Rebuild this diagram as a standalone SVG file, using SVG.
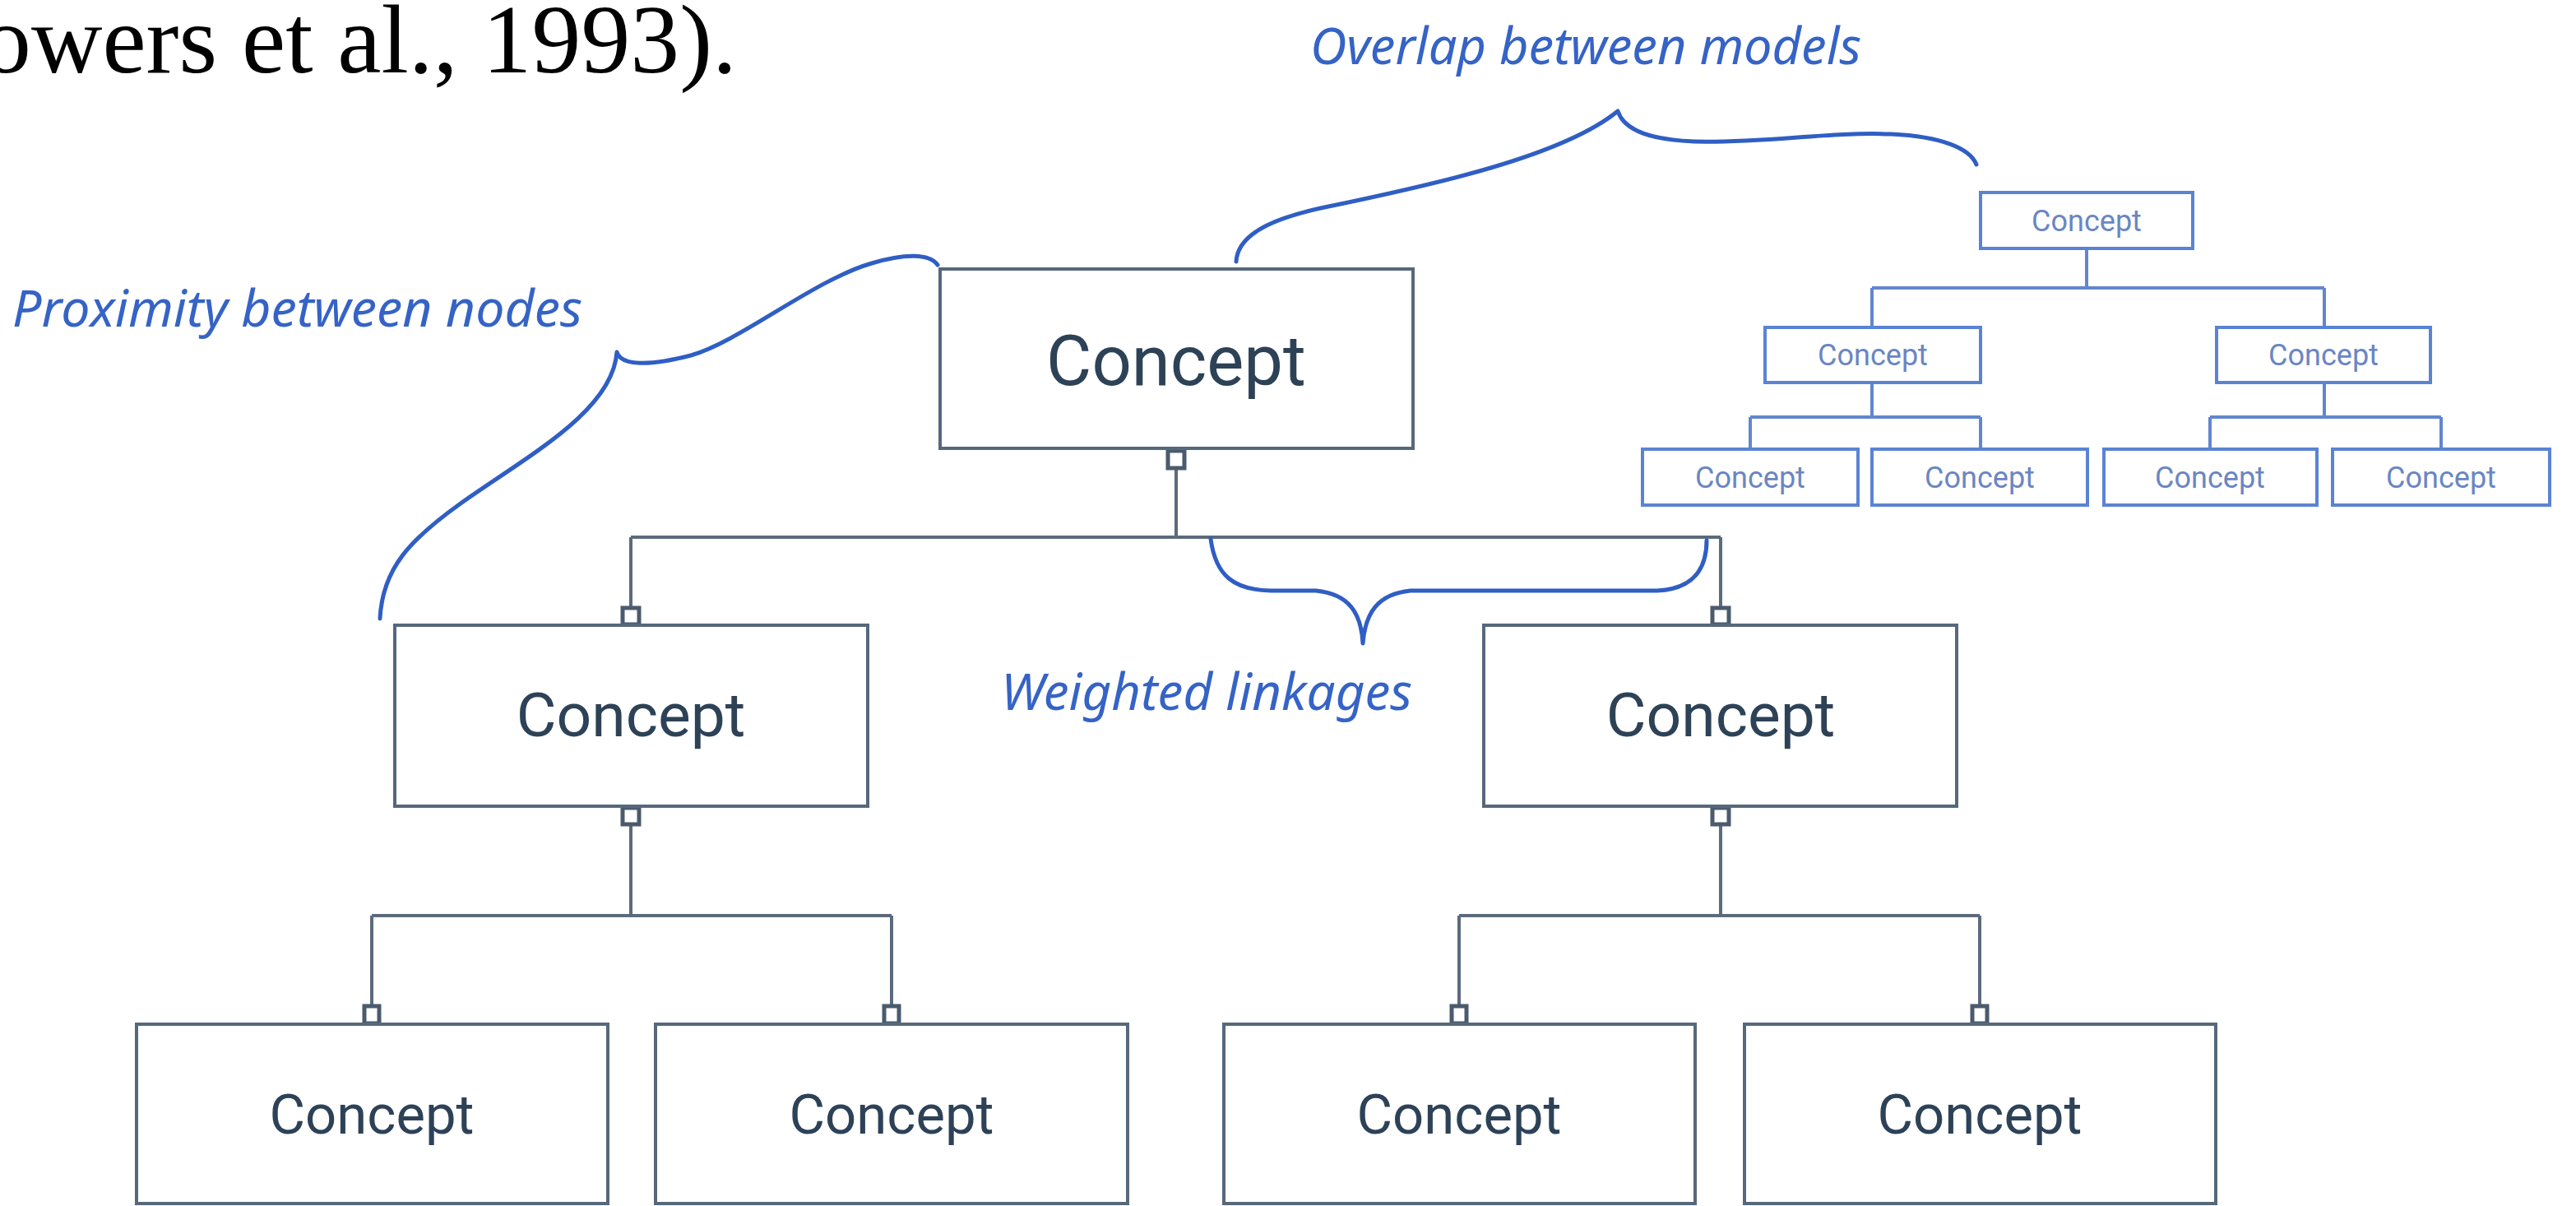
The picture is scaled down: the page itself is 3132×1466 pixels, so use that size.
<svg xmlns="http://www.w3.org/2000/svg" width="3132" height="1466" viewBox="0 0 3132 1466">
<style>
.box{fill:#ffffff;stroke:#56687b;stroke-width:4}
.lbl{font-family:Roboto,"Liberation Sans",sans-serif;fill:#2d4257;text-anchor:middle}
.big{font-size:85px}
.mid{font-size:75px}
.low{font-size:67px}
.conn{fill:none;stroke:#5c6b7b;stroke-width:4}
.port{fill:#ffffff;stroke:#4a5b6d;stroke-width:5}
.sbox{fill:#ffffff;stroke:#5a83d4;stroke-width:4}
.slbl{font-family:Roboto,"Liberation Sans",sans-serif;font-size:36px;fill:#6a86c2;text-anchor:middle}
.sconn{fill:none;stroke:#6286cf;stroke-width:4}
.brace{fill:none;stroke:#2f5ec4;stroke-width:5;stroke-linecap:round;stroke-linejoin:round}
.note{font-family:"Noto Sans","DejaVu Sans",sans-serif;font-style:italic;font-size:62px;fill:#3563c6}
</style>
<rect width="3132" height="1466" fill="#ffffff"/>
<text x="-22" y="88" font-family="'Liberation Serif',serif" font-size="118" fill="#000000" textLength="918" lengthAdjust="spacingAndGlyphs">owers et al., 1993).</text>

<g id="connectors">
<path class="conn" d="M1430,570 V653 M767,653 H2092 M767,653 V738 M2092,653 V738"/>
<path class="conn" d="M767,1003 V1113 M452,1113 H1084 M452,1113 V1222 M1084,1113 V1222"/>
<path class="conn" d="M2092,1003 V1113 M1774,1113 H2407 M1774,1113 V1222 M2407,1113 V1222"/>
<rect class="port" x="1420" y="548" width="20" height="21"/>
<rect class="port" x="757" y="739" width="20" height="20"/>
<rect class="port" x="2082" y="739" width="20" height="20"/>
<rect class="port" x="757" y="982" width="20" height="20"/>
<rect class="port" x="2082" y="982" width="20" height="20"/>
<rect class="port" x="443" y="1223" width="18" height="21"/>
<rect class="port" x="1075" y="1223" width="18" height="21"/>
<rect class="port" x="1765" y="1223" width="18" height="21"/>
<rect class="port" x="2398" y="1223" width="18" height="21"/>
<path class="sconn" d="M2537,302 V350 M2276,350 H2826 M2276,350 V397 M2826,350 V397"/>
<path class="sconn" d="M2276,465 V507 M2128,507 H2408 M2128,507 V545 M2408,507 V545"/>
<path class="sconn" d="M2826,465 V507 M2687,507 H2968 M2687,507 V545 M2968,507 V545"/>
</g>

<g id="node-top">
<rect class="box" x="1143" y="327" width="575" height="218"/>
<text class="lbl big" x="1430" y="468">Concept</text>
</g>
<g id="node-mid-left">
<rect class="box" x="480" y="760" width="575" height="220"/>
<text class="lbl mid" x="767" y="895">Concept</text>
</g>
<g id="node-mid-right">
<rect class="box" x="1804" y="760" width="575" height="220"/>
<text class="lbl mid" x="2092" y="895">Concept</text>
</g>
<g id="node-bottom-1">
<rect class="box" x="166" y="1245" width="573" height="218"/>
<text class="lbl low" x="452" y="1378">Concept</text>
</g>
<g id="node-bottom-2">
<rect class="box" x="797" y="1245" width="574" height="218"/>
<text class="lbl low" x="1084" y="1378">Concept</text>
</g>
<g id="node-bottom-3">
<rect class="box" x="1488" y="1245" width="573" height="218"/>
<text class="lbl low" x="1774" y="1378">Concept</text>
</g>
<g id="node-bottom-4">
<rect class="box" x="2121" y="1245" width="573" height="218"/>
<text class="lbl low" x="2407" y="1378">Concept</text>
</g>

<g id="small-top">
<rect class="sbox" x="2408" y="234" width="258" height="68"/>
<text class="slbl" x="2537" y="281">Concept</text>
</g>
<g id="small-mid-left">
<rect class="sbox" x="2146" y="398" width="262" height="67"/>
<text class="slbl" x="2277" y="444">Concept</text>
</g>
<g id="small-mid-right">
<rect class="sbox" x="2695" y="398" width="260" height="67"/>
<text class="slbl" x="2825" y="444">Concept</text>
</g>
<g id="small-bottom-1">
<rect class="sbox" x="1997" y="546" width="262" height="68"/>
<text class="slbl" x="2128" y="593">Concept</text>
</g>
<g id="small-bottom-2">
<rect class="sbox" x="2276" y="546" width="262" height="68"/>
<text class="slbl" x="2407" y="593">Concept</text>
</g>
<g id="small-bottom-3">
<rect class="sbox" x="2558" y="546" width="259" height="68"/>
<text class="slbl" x="2687" y="593">Concept</text>
</g>
<g id="small-bottom-4">
<rect class="sbox" x="2836" y="546" width="264" height="68"/>
<text class="slbl" x="2968" y="593">Concept</text>
</g>

<g id="annotations">
<path class="brace" d="M462,752 C465,690 500,655 560,612 C640,555 745,500 750,428 C755,445 790,445 840,432 C900,415 990,340 1060,320 C1100,308 1130,308 1140,322"/>
<path class="brace" d="M1503,318 C1505,280 1560,262 1620,250 C1740,225 1900,190 1967,135 C1975,160 2010,170 2060,172 C2150,174 2220,160 2300,163 C2360,166 2395,180 2403,200"/>
<path class="brace" d="M1472,655 C1478,700 1500,717 1545,718 L1600,718 C1640,722 1655,745 1657,782 C1660,745 1675,722 1715,718 L2015,718 C2060,716 2075,690 2075,657"/>
<text class="note" x="1593" y="78" textLength="670" lengthAdjust="spacingAndGlyphs">Overlap between models</text>
<text class="note" x="15" y="397" textLength="693" lengthAdjust="spacingAndGlyphs">Proximity between nodes</text>
<text class="note" x="1217" y="863" textLength="500" lengthAdjust="spacingAndGlyphs">Weighted linkages</text>
</g>
</svg>
